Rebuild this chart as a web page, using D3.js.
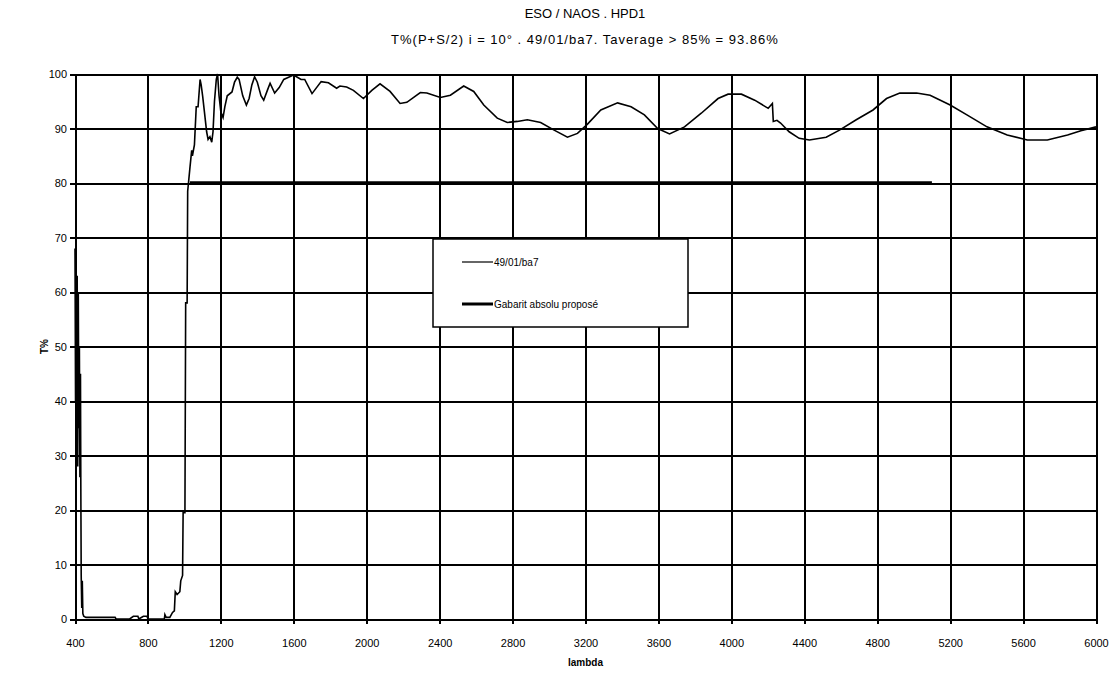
<!DOCTYPE html>
<html lang="fr">
<head>
<meta charset="UTF-8">
<title>ESO / NAOS . HPD1</title>
<script src="https://cdn.jsdelivr.net/npm/d3@7"></script>
<style>
  body { margin: 0; background: #fff; }
  text { font-family: "Liberation Sans", Arial, sans-serif; fill: #000; }
</style>
</head>
<body>
<div id="chart"></div>
<script>
// mesure 49/01/ba7 : [lambda, T%]
var lambda = [400, 403, 406, 409, 412, 415, 418, 421, 424, 427, 430, 432, 434, 437, 440, 443, 448, 460, 620, 625, 700, 720, 745, 750, 775, 795, 800, 890, 893, 900, 920, 935, 945, 950, 960, 975, 980, 990, 993, 1003, 1007, 1015, 1018, 1031, 1040, 1044, 1055, 1065, 1075, 1086, 1092, 1100, 1110, 1122, 1130, 1140, 1150, 1157, 1165, 1175, 1182, 1190, 1200, 1212, 1222, 1235, 1261, 1275, 1290, 1300, 1320, 1340, 1355, 1370, 1385, 1400, 1420, 1435, 1455, 1470, 1495, 1520, 1545, 1598, 1615, 1640, 1660, 1700, 1750, 1790, 1835, 1853, 1890, 1927, 1982, 2028, 2073, 2128, 2183, 2220, 2294, 2330, 2404, 2459, 2532, 2587, 2642, 2716, 2771, 2826, 2881, 2954, 3028, 3101, 3156, 3211, 3284, 3376, 3450, 3523, 3596, 3661, 3743, 3835, 3927, 3982, 4055, 4128, 4202, 4225, 4230, 4250, 4270, 4317, 4372, 4428, 4520, 4593, 4685, 4777, 4851, 4924, 5016, 5090, 5200, 5292, 5402, 5513, 5623, 5733, 5844, 5917, 6000];
var transmission = [68, 40, 66, 30, 63, 28, 60, 35, 50, 26, 45, 24, 8, 2, 7, 1, 0.5, 0.3, 0.3, 0, 0, 0.5, 0.5, 0, 0.5, 0.5, 0, 0, 0.8, 0.3, 0.3, 1.2, 1.5, 5, 4.5, 5, 7, 8, 19.5, 19.5, 58, 58, 78.5, 83, 86, 85, 87, 94, 94, 99, 98, 96, 93, 89.4, 88, 88.5, 87.5, 89.4, 95, 99, 100, 96, 93, 92, 94, 96, 96.7, 98.5, 99.4, 99, 96, 94.3, 95.5, 98, 99.5, 98.5, 96, 95.2, 97, 98.3, 96.5, 97.5, 99, 99.8, 99.5, 99, 99, 96.4, 98.6, 98.4, 97.4, 97.8, 97.6, 97, 95.5, 97, 98.2, 96.8, 94.6, 94.8, 96.6, 96.5, 95.7, 96.1, 97.8, 96.8, 94.3, 91.9, 91.1, 91.3, 91.6, 91.1, 89.7, 88.4, 89.1, 90.8, 93.4, 94.7, 94, 92.5, 90, 89, 90.3, 92.8, 95.5, 96.3, 96.3, 95.2, 93.7, 94.6, 91.3, 91.5, 91, 89.4, 88.2, 87.9, 88.4, 89.7, 91.6, 93.4, 95.5, 96.5, 96.5, 96.1, 94.3, 92.5, 90.3, 88.8, 87.9, 87.9, 88.8, 89.6, 90.3];

// gabarit absolu proposé
var gabaritLambda = [1030, 5100];
var gabaritT = [80, 80];

var xTicks = [400, 800, 1200, 1600, 2000, 2400, 2800, 3200, 3600, 4000, 4400, 4800, 5200, 5600, 6000];
var yTicks = [0, 10, 20, 30, 40, 50, 60, 70, 80, 90, 100];
var seriesNames = ["49/01/ba7", "Gabarit absolu proposé"];

var W = 1115, H = 675;
var margin = {top: 74, right: 19, bottom: 56, left: 75};
var width = W - margin.left - margin.right;
var height = H - margin.top - margin.bottom;

var svg = d3.select("#chart").append("svg")
    .attr("width", W)
    .attr("height", H);

// titres
svg.append("text").attr("x", 585).attr("y", 18)
    .attr("text-anchor", "middle").style("font-size", "13px")
    .text("ESO / NAOS . HPD1");
svg.append("text").attr("x", 585).attr("y", 44)
    .attr("text-anchor", "middle").style("font-size", "13px")
    .style("letter-spacing", "1px")
    .text("T%(P+S/2) i = 10° . 49/01/ba7. Taverage > 85% = 93.86%");

var g = svg.append("g")
    .attr("transform", "translate(" + margin.left + "," + margin.top + ")");

var x = d3.scaleLinear().domain([400, 6000]).range([0, width]);
var y = d3.scaleLinear().domain([0, 100]).range([height, 0]);

// grille + axes
var yAxis = g.append("g")
    .call(d3.axisLeft(y).tickValues(yTicks).tickSize(-width).tickPadding(8));
yAxis.selectAll(".tick line").attr("x1", -5)
    .attr("stroke", "#000").attr("stroke-width", 2).attr("shape-rendering", "crispEdges");
yAxis.select(".domain").remove();
yAxis.selectAll("text").style("font-size", "11px");

var xAxis = g.append("g")
    .attr("transform", "translate(0," + height + ")")
    .call(d3.axisBottom(x).tickValues(xTicks).tickFormat(d3.format("d")).tickSize(-height).tickPadding(20));
xAxis.selectAll(".tick line").attr("y1", 5)
    .attr("stroke", "#000").attr("stroke-width", 2).attr("shape-rendering", "crispEdges");
xAxis.select(".domain").remove();
xAxis.selectAll("text").style("font-size", "11px");

// titres d'axes
svg.append("text")
    .attr("transform", "translate(48," + (margin.top + height / 2) + ") rotate(-90)")
    .attr("text-anchor", "middle").style("font-size", "10px").style("font-weight", "bold")
    .text("T%");
svg.append("text").attr("x", margin.left + width / 2).attr("y", 666)
    .attr("text-anchor", "middle").style("font-size", "10px").style("font-weight", "bold")
    .text("lambda");

// courbes
var line = d3.line()
    .x(function (d) { return x(d[0]); })
    .y(function (d) { return y(d[1]); });

var mesure = lambda.map(function (l, i) { return [l, transmission[i]]; });
var gabarit = gabaritLambda.map(function (l, i) { return [l, gabaritT[i]]; });

g.append("path").datum(gabarit)
    .attr("d", line)
    .attr("fill", "none").attr("stroke", "#000").attr("stroke-width", 3.5);

g.append("path").datum(mesure)
    .attr("d", line)
    .attr("fill", "none").attr("stroke", "#000").attr("stroke-width", 1.6)
    .attr("stroke-linejoin", "miter");

// légende
var leg = svg.append("g").attr("transform", "translate(433,239)");
leg.append("rect").attr("width", 255).attr("height", 88)
    .attr("fill", "#fff").attr("stroke", "#000").attr("stroke-width", 1.5);
var legWidths = [1.2, 3];
var legY = [23, 65];
seriesNames.forEach(function (name, i) {
    leg.append("line").attr("x1", 29).attr("x2", 60)
        .attr("y1", legY[i]).attr("y2", legY[i])
        .attr("stroke", "#000").attr("stroke-width", legWidths[i]);
    leg.append("text").attr("x", 61).attr("y", legY[i] + 4)
        .style("font-size", "10px")
        .text(name);
});
</script>
</body>
</html>
